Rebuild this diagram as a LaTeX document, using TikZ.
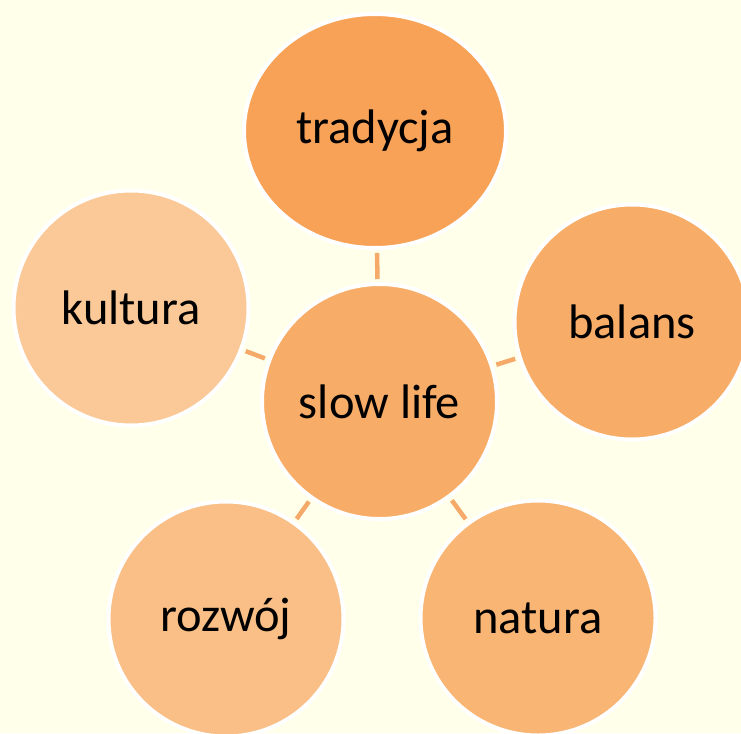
\documentclass[tikz,border=0pt]{standalone}
\usepackage{fontspec}
\setmainfont{Carlito}
\usetikzlibrary{shapes.geometric}
\definecolor{bgc}{HTML}{FFFFEA}
\definecolor{ctrad}{HTML}{F8A257}
\definecolor{cmid}{HTML}{F7AC68}
\definecolor{cnat}{HTML}{F8B574}
\definecolor{croz}{HTML}{F9BF86}
\definecolor{ckul}{HTML}{FAC997}
\definecolor{clink}{HTML}{F6AA6A}
\tikzset{
  bub/.style={circle, draw=white, line width=4pt, minimum size=235pt, inner sep=0pt,
    font=\fontsize{48.5}{52}\selectfont, text=black},
  link/.style={draw=clink, line width=4.5pt, shorten <=3pt, shorten >=3pt}
}
\begin{document}
\begin{tikzpicture}[x=1pt,y=-1pt]
\fill[bgc] (0,0) rectangle (741,733);
\useasboundingbox (0,0) rectangle (741,733);
\node[bub, fill=cmid] (c) at (379.5,401.5) {slow life};
\node[bub, ellipse, fill=ctrad, minimum width=262pt, minimum height=234pt] (t) at (375,131) {tradycja};
\node[bub, fill=ckul] (k) at (131,308) {kultura};
\node[bub, fill=cmid] (b) at (632,322) {balans};
\node[bub, fill=croz] (r) at (226,619) {rozwój};
\node[bub, fill=cnat] (n) at (538,618) {natura};
\draw[link] (c) -- (t);
\draw[link] (c) -- (k);
\draw[link] (c) -- (b);
\draw[link] (c) -- (r);
\draw[link] (c) -- (n);
\end{tikzpicture}
\end{document}
